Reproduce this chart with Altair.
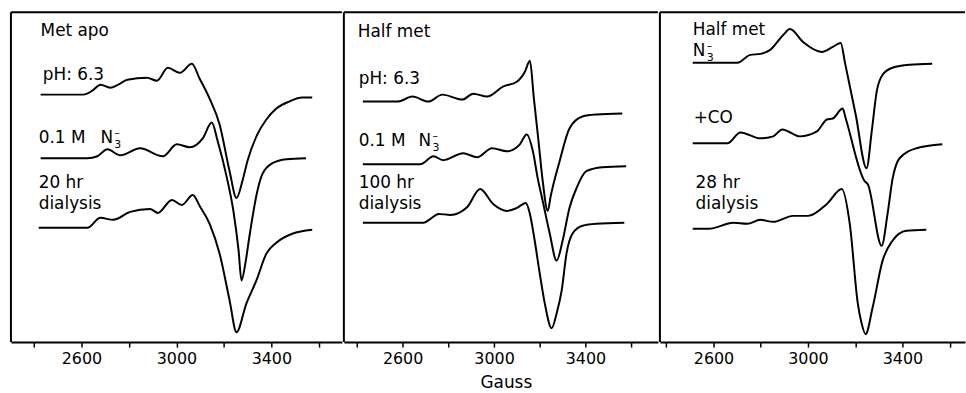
import altair as alt
import pandas as pd

FONT = "DejaVu Sans"

# ---------------- Panel 1 : Met apo ----------------
p1_ph_gauss = [2428, 2608, 2646, 2680, 2721, 2755, 2793, 2876, 2918, 2964, 3015, 3065, 3098, 3140, 3182, 3224, 3253, 3278, 3299, 3341, 3379, 3421, 3475, 3530, 3572]
p1_ph_signal = [249, 249, 253, 259, 256, 259, 264, 266, 263, 276, 271, 280, 265, 245, 219, 172, 145, 162, 182, 209, 224, 235, 242, 246, 246]
p1_az_gauss = [2428, 2625, 2667, 2709, 2763, 2847, 2943, 3002, 3056, 3111, 3149, 3174, 3211, 3240, 3262, 3274, 3291, 3308, 3341, 3362, 3404, 3463, 3546]
p1_az_signal = [185, 185, 187, 194, 188, 195, 187, 199, 196, 205, 221, 202, 167, 132, 92, 62, 80, 107, 152, 169, 180, 184, 185]
p1_dia_gauss = [2420, 2625, 2680, 2734, 2805, 2889, 2922, 2981, 3023, 3069, 3098, 3140, 3182, 3224, 3253, 3295, 3337, 3379, 3421, 3488, 3572]
p1_dia_signal = [115, 115, 125, 123, 131, 134, 130, 143, 138, 148, 137, 119, 89, 42, 10, 39, 62, 89, 100, 109, 113]

# ---------------- Panel 2 : Half met ----------------
p2_ph_gauss = [2426, 2578, 2643, 2713, 2774, 2861, 2909, 2970, 3039, 3100, 3135, 3157, 3174, 3196, 3213, 3235, 3248, 3287, 3330, 3387, 3448, 3561]
p2_ph_signal = [242, 242, 247, 242, 249, 244, 250, 247, 257, 262, 272, 283, 246, 199, 162, 132, 147, 182, 215, 227, 229, 230]
p2_az_gauss = [2426, 2678, 2735, 2778, 2865, 2926, 2991, 3057, 3113, 3143, 3170, 3191, 3213, 3243, 3274, 3300, 3330, 3361, 3404, 3474, 3578]
p2_az_signal = [179, 179, 187, 183, 190, 186, 195, 192, 199, 209, 192, 165, 142, 110, 82, 102, 135, 155, 172, 176, 177]
p2_dia_gauss = [2426, 2691, 2722, 2757, 2809, 2883, 2939, 2996, 3057, 3100, 3139, 3157, 3178, 3200, 3222, 3252, 3274, 3296, 3317, 3343, 3387, 3448, 3570]
p2_dia_signal = [120, 120, 124, 129, 128, 136, 154, 139, 132, 135, 140, 129, 102, 69, 39, 14, 29, 52, 89, 109, 117, 119, 120]

# ---------------- Panel 3 : Half met N3- ----------------
p3_az_gauss = [2512, 2701, 2756, 2798, 2840, 2895, 2924, 2979, 3059, 3105, 3139, 3156, 3202, 3248, 3270, 3291, 3316, 3358, 3430, 3526]
p3_az_signal = [281, 281, 289, 290, 294, 309, 315, 302, 292, 297, 301, 282, 229, 175, 212, 252, 269, 276, 279, 280]
p3_co_gauss = [2512, 2659, 2714, 2798, 2853, 2891, 2966, 3038, 3080, 3105, 3147, 3160, 3240, 3253, 3312, 3337, 3358, 3388, 3459, 3569]
p3_co_signal = [200, 200, 211, 205, 207, 214, 207, 212, 224, 225, 235, 225, 162, 159, 97, 129, 164, 185, 195, 199]
p3_dia_gauss = [2512, 2579, 2684, 2743, 2798, 2853, 2937, 3000, 3080, 3143, 3177, 3211, 3227, 3244, 3274, 3316, 3358, 3417, 3501]
p3_dia_signal = [114, 114, 120, 119, 123, 121, 127, 127, 139, 154, 119, 39, 19, 8, 35, 82, 102, 112, 113]

# ---------------- Annotations ----------------
p1_label_text = ["Met  apo", "pH: 6.3", "0.1 M", "20 hr", "dialysis"]
p1_label_gauss = [2428, 2437, 2420, 2420, 2420]
p1_label_signal = [313, 269, 205, 160, 139]
p1_anion_gauss = [2680]
p1_anion_signal = [205]

p2_label_text = ["Half  met", "pH: 6.3", "0.1 M", "100 hr", "dialysis"]
p2_label_gauss = [2404, 2408, 2408, 2408, 2408]
p2_label_signal = [312, 265, 202, 160, 139]
p2_anion_gauss = [2670]
p2_anion_signal = [202]

p3_label_text = ["Half  met", "+CO", "28 hr", "dialysis"]
p3_label_gauss = [2512, 2516, 2524, 2524]
p3_label_signal = [314, 225, 160, 139]
p3_anion_gauss = [2512]
p3_anion_signal = [293]

tick_values = [2400, 2600, 2800, 3000, 3200, 3400, 3600]

PANEL_H = 332


def curves_df(items):
    rows = []
    for name, gs, ss in items:
        for g, s in zip(gs, ss):
            rows.append({"curve": name, "gauss": g, "signal": s})
    return pd.DataFrame(rows)


def panel(items, lab_text, lab_g, lab_s, an_g, an_s, domain, width, title):
    xscale = alt.Scale(domain=domain, nice=False, zero=False)
    yscale = alt.Scale(domain=[0, PANEL_H], nice=False, zero=False)
    axis_kw = dict(
        values=tick_values,
        format="d",
        labelExpr="(datum.value == 2600 || datum.value == 3000 || datum.value == 3400) ? datum.label : ''",
        grid=False,
        labelOverlap=False,
        labelFlush=False,
    )
    if title:
        axis = alt.Axis(title=title, titleX=163, **axis_kw)
    else:
        axis = alt.Axis(title=None, **axis_kw)

    lines = alt.Chart(curves_df(items)).mark_line(
        color="black", strokeWidth=2, interpolate="monotone"
    ).encode(
        x=alt.X("gauss:Q", scale=xscale, axis=axis),
        y=alt.Y("signal:Q", scale=yscale, axis=None),
        detail="curve:N",
    )

    lab_df = pd.DataFrame({"text": lab_text, "gauss": lab_g, "signal": lab_s})
    labels = alt.Chart(lab_df).mark_text(
        align="left", baseline="middle", font=FONT, fontSize=17, color="black"
    ).encode(
        x=alt.X("gauss:Q", scale=xscale),
        y=alt.Y("signal:Q", scale=yscale),
        text="text:N",
    )

    an_df = pd.DataFrame({"gauss": an_g, "signal": an_s, "n": ["N"], "sub": ["3"], "sup": ["\u2013"]})
    n_txt = alt.Chart(an_df).mark_text(
        align="left", baseline="middle", font=FONT, fontSize=17, color="black"
    ).encode(x=alt.X("gauss:Q", scale=xscale), y=alt.Y("signal:Q", scale=yscale), text="n:N")
    sub_txt = alt.Chart(an_df).mark_text(
        align="left", baseline="middle", font=FONT, fontSize=11, color="black", dx=14, dy=7
    ).encode(x=alt.X("gauss:Q", scale=xscale), y=alt.Y("signal:Q", scale=yscale), text="sub:N")
    sup_txt = alt.Chart(an_df).mark_text(
        align="left", baseline="middle", font=FONT, fontSize=11, color="black", dx=14, dy=-5
    ).encode(x=alt.X("gauss:Q", scale=xscale), y=alt.Y("signal:Q", scale=yscale), text="sup:N")

    one = pd.DataFrame({"k": [0]})
    top_rule = alt.Chart(one).mark_rule(color="black", strokeWidth=2).encode(
        x=alt.value(0), x2=alt.value(width), y=alt.value(0)
    )
    left_rule = alt.Chart(one).mark_rule(color="black", strokeWidth=2).encode(
        x=alt.value(0), y=alt.value(0), y2=alt.value(PANEL_H)
    )

    return alt.layer(lines, labels, n_txt, sub_txt, sup_txt, top_rule, left_rule).properties(
        width=width, height=PANEL_H
    )


p1 = panel(
    [("pH 6.3", p1_ph_gauss, p1_ph_signal), ("0.1 M N3", p1_az_gauss, p1_az_signal), ("20 hr dialysis", p1_dia_gauss, p1_dia_signal)],
    p1_label_text, p1_label_gauss, p1_label_signal, p1_anion_gauss, p1_anion_signal,
    [2303, 3697], 333, None,
)
p2 = panel(
    [("pH 6.3", p2_ph_gauss, p2_ph_signal), ("0.1 M N3", p2_az_gauss, p2_az_signal), ("100 hr dialysis", p2_dia_gauss, p2_dia_signal)],
    p2_label_text, p2_label_gauss, p2_label_signal, p2_anion_gauss, p2_anion_signal,
    [2343, 3717], 316, "Gauss",
)
p3 = panel(
    [("Half met N3", p3_az_gauss, p3_az_signal), ("+CO", p3_co_gauss, p3_co_signal), ("28 hr dialysis", p3_dia_gauss, p3_dia_signal)],
    p3_label_text, p3_label_gauss, p3_label_signal, p3_anion_gauss, p3_anion_signal,
    [2373, 3665], 307, None,
)

chart = alt.hconcat(p1, p2, p3, spacing=0).properties(
    padding={"left": 10, "top": 10, "right": 0, "bottom": 0},
    background="white",
).configure_view(stroke=None).configure_axis(
    labelFont=FONT,
    labelFontSize=16,
    labelColor="black",
    labelPadding=4,
    titleFont=FONT,
    titleFontSize=17,
    titleFontWeight="normal",
    titleColor="black",
    titlePadding=8,
    domainColor="black",
    domainWidth=2,
    tickColor="black",
    tickWidth=1.5,
    tickSize=5,
)

chart.save("out.html", embed_options={"renderer": "svg", "actions": False})
